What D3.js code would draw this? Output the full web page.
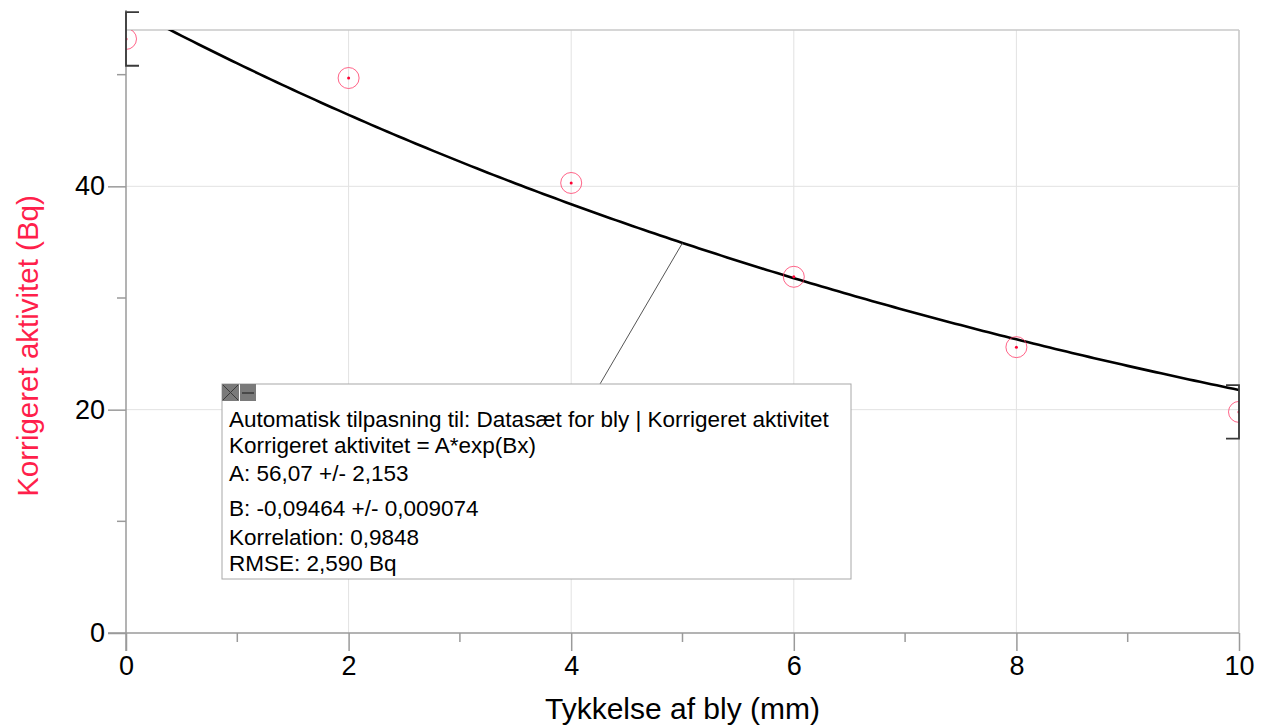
<!DOCTYPE html>
<html>
<head>
<meta charset="utf-8">
<script src="https://cdn.jsdelivr.net/npm/d3@7"></script>
<style>
  body { margin: 0; background: #fff; }
  svg { display: block; font-family: "Liberation Sans", Arial, sans-serif; }
</style>
</head>
<body>
<svg id="chart" width="1266" height="727"></svg>
<script>
// data
const thickness = [0, 2, 4, 6, 8, 10]
const activity = [53.2, 49.7, 40.3, 31.9, 25.6, 19.8]
const fitA = 56.07
const fitB = -0.09464
const bracketHalf = 2.4
const xTicks = [0, 2, 4, 6, 8, 10]
const xMinor = [1, 3, 5, 7, 9]
const yTicks = [0, 20, 40]
const yMinor = [10, 30, 50]
const boxLines = [
  'Automatisk tilpasning til: Datasæt for bly | Korrigeret aktivitet',
  'Korrigeret aktivitet = A*exp(Bx)',
  'A: 56,07 +/- 2,153',
  'B: -0,09464 +/- 0,009074',
  'Korrelation: 0,9848',
  'RMSE: 2,590 Bq'
]

const svg = d3.select('#chart')
const m = { left: 126, right: 1239, top: 30, bottom: 633 }

const x = d3.scaleLinear().domain([0, 10]).range([m.left, m.right])
const y = d3.scaleLinear().domain([0, 54]).range([m.bottom, m.top])

svg.append('defs').append('clipPath').attr('id', 'plot')
  .append('rect')
  .attr('x', m.left).attr('y', m.top)
  .attr('width', m.right - m.left).attr('height', m.bottom - m.top)

// grid
svg.append('g').selectAll('line').data(xTicks.slice(1))
  .enter().append('line')
  .attr('x1', d => x(d)).attr('x2', d => x(d))
  .attr('y1', m.top).attr('y2', m.bottom)
  .attr('stroke', d => d === 10 ? '#c4c4c4' : '#e2e2e2')
  .attr('stroke-width', d => d === 10 ? 1.5 : 1)
svg.append('g').selectAll('line').data(yTicks.slice(1))
  .enter().append('line')
  .attr('x1', m.left).attr('x2', m.right)
  .attr('y1', d => y(d)).attr('y2', d => y(d))
  .attr('stroke', '#e2e2e2')
svg.append('line')
  .attr('x1', m.left).attr('x2', m.right)
  .attr('y1', m.top).attr('y2', m.top)
  .attr('stroke', '#c8c8c8').attr('stroke-width', 1.5)

// x axis
const xAxis = svg.append('g').attr('transform', `translate(0,${m.bottom})`)
  .call(d3.axisBottom(x).tickValues(xTicks).tickSize(18).tickPadding(4).tickSizeOuter(0).tickFormat(d3.format('d')))
xAxis.append('g').selectAll('line').data(xMinor)
  .enter().append('line')
  .attr('x1', d => x(d)).attr('x2', d => x(d))
  .attr('y1', 0).attr('y2', 9)
xAxis.select('.domain').attr('d', `M${m.left - 18},0H${m.right}`)

// y axis
const yAxis = svg.append('g').attr('transform', `translate(${m.left},0)`)
  .call(d3.axisLeft(y).tickValues(yTicks).tickSize(18).tickPadding(3).tickSizeOuter(0))
yAxis.append('g').selectAll('line').data(yMinor)
  .enter().append('line')
  .attr('x1', -9).attr('x2', 0)
  .attr('y1', d => y(d)).attr('y2', d => y(d))
yAxis.select('.domain').attr('d', `M0,${m.top - 20}V${m.bottom + 18}`)

svg.selectAll('.domain, .tick line').attr('stroke', '#9a9a9a').attr('stroke-width', 1.5)
xAxis.selectAll('g > line').attr('stroke', '#9a9a9a').attr('stroke-width', 1.5)
yAxis.selectAll('g > line').attr('stroke', '#9a9a9a').attr('stroke-width', 1.5)
svg.selectAll('.tick text').attr('font-size', 27).attr('fill', '#000')
  .attr('font-family', '"Liberation Sans", Arial, sans-serif')
xAxis.selectAll('.tick text').attr('dy', '0.75em')

// axis titles
svg.append('text')
  .attr('x', (m.left + m.right) / 2).attr('y', 719)
  .attr('text-anchor', 'middle').attr('font-size', 30)
  .text('Tykkelse af bly (mm)')
svg.append('text')
  .attr('transform', 'translate(38,346) rotate(-90)')
  .attr('text-anchor', 'middle').attr('font-size', 29.5)
  .attr('fill', '#ff1f4b')
  .text('Korrigeret aktivitet (Bq)')

// fit curve
const xs = d3.range(0, 10.001, 0.05)
const line = d3.line().x(d => x(d)).y(d => y(fitA * Math.exp(fitB * d)))
svg.append('path')
  .datum(xs)
  .attr('clip-path', 'url(#plot)')
  .attr('d', line)
  .attr('fill', 'none').attr('stroke', '#000').attr('stroke-width', 2.6)

// points
const pts = svg.append('g').attr('clip-path', 'url(#plot)')
  .selectAll('g').data(thickness.map((t, i) => [t, activity[i]]))
  .enter().append('g')
  .attr('transform', d => `translate(${x(d[0])},${y(d[1])})`)
pts.append('circle').attr('r', 10.5)
  .attr('fill', 'none').attr('stroke', '#ff3060').attr('stroke-opacity', 0.75)
pts.append('circle').attr('r', 1.5).attr('fill', '#ff0033')

// fit range brackets
const ends = [0, thickness.length - 1]
svg.append('g').selectAll('path').data(ends)
  .enter().append('path')
  .attr('d', i => {
    const px = x(thickness[i])
    const cap = i === 0 ? 13 : -13
    const t = y(activity[i] + bracketHalf)
    const b = y(activity[i] - bracketHalf)
    return `M${px + cap},${t}H${px}V${b}H${px + cap}`
  })
  .attr('fill', 'none').attr('stroke', '#3a3a3a').attr('stroke-width', 1.8)

// annotation box
const box = { x: 222, y: 384, w: 629, h: 195 }
svg.append('line')
  .attr('x1', 600).attr('y1', box.y)
  .attr('x2', x(5)).attr('y2', y(fitA * Math.exp(fitB * 5)))
  .attr('stroke', '#555').attr('stroke-width', 1)
svg.append('rect')
  .attr('x', box.x).attr('y', box.y).attr('width', box.w).attr('height', box.h)
  .attr('fill', '#fff').attr('stroke', '#a8a8a8').attr('stroke-width', 1)

const btn = svg.append('g')
btn.append('rect').attr('x', box.x).attr('y', box.y).attr('width', 17).attr('height', 17).attr('fill', '#7a7a7a')
btn.append('path').attr('d', `M${box.x + 1},${box.y + 1}L${box.x + 16},${box.y + 16}M${box.x + 16},${box.y + 1}L${box.x + 1},${box.y + 16}`)
  .attr('stroke', '#3a3a3a').attr('stroke-width', 1)
btn.append('rect').attr('x', box.x + 18).attr('y', box.y).attr('width', 16).attr('height', 17).attr('fill', '#7a7a7a')
btn.append('line').attr('x1', box.x + 20).attr('x2', box.x + 32).attr('y1', box.y + 9).attr('y2', box.y + 9)
  .attr('stroke', '#3a3a3a').attr('stroke-width', 1.5)

const baselines = [427, 453, 481, 516, 545, 571]
svg.append('g').selectAll('text').data(boxLines)
  .enter().append('text')
  .attr('x', 229).attr('y', (d, i) => baselines[i])
  .attr('font-size', 22.5).attr('fill', '#000')
  .text(d => d)
</script>
</body>
</html>
